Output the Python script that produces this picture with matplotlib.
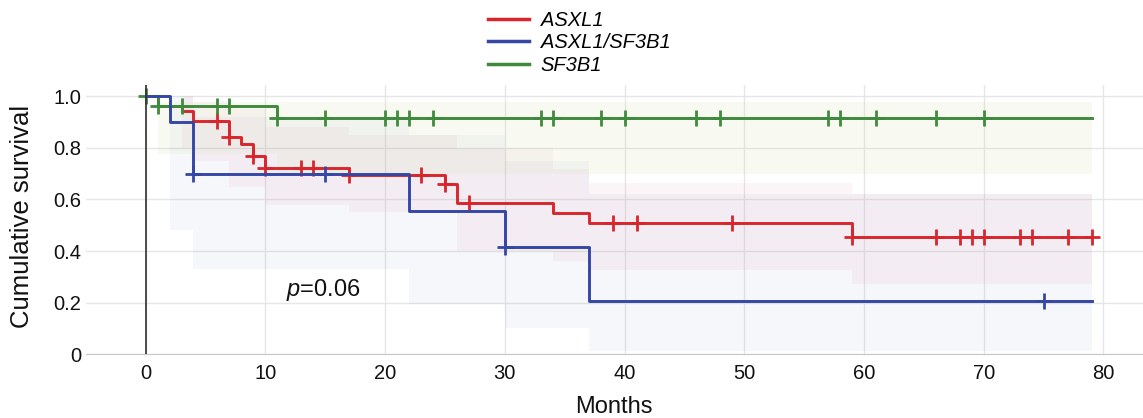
import numpy as np
import matplotlib
matplotlib.use('Agg')
import matplotlib.pyplot as plt
from matplotlib.lines import Line2D

plt.rcParams['font.family'] = ['Liberation Sans', 'DejaVu Sans']
plt.rcParams['mathtext.fontset'] = 'custom'
plt.rcParams['mathtext.it'] = 'Liberation Sans:italic'
plt.rcParams['mathtext.rm'] = 'Liberation Sans'

# Kaplan-Meier steps (time in months, survival after the step)
asxl1_t = [0, 1, 3, 4, 7, 8, 9, 10, 17, 25, 26, 34, 37, 59, 79]
asxl1_s = [1.0, 0.962, 0.943, 0.904, 0.841, 0.815, 0.768, 0.722, 0.695, 0.66, 0.585, 0.548, 0.507, 0.455, 0.455]
asxl1_cens = [6, 7, 9, 10, 13, 14, 17, 23, 25, 27, 39, 41, 49, 59, 66, 68, 69, 70, 73, 74, 77, 79]

combo_t = [0, 2, 4, 22, 30, 37, 79]
combo_s = [1.0, 0.90, 0.70, 0.556, 0.417, 0.207, 0.207]
combo_cens = [4, 15, 30, 75]

sf3b1_t = [0, 1, 11, 79]
sf3b1_s = [1.0, 0.962, 0.915, 0.915]
sf3b1_cens = [0, 1, 3, 6, 7, 11, 15, 20, 21, 22, 24, 33, 34, 38, 40, 46, 48, 57, 58, 61, 66, 70]

# confidence bands (step, post)
asxl1_ci_t = [3, 4, 7, 10, 17, 26, 34, 37, 59, 79]
asxl1_lo = [0.80, 0.75, 0.65, 0.58, 0.55, 0.40, 0.36, 0.325, 0.27, 0.27]
asxl1_hi = [1.0, 0.98, 0.95, 0.88, 0.85, 0.80, 0.72, 0.665, 0.62, 0.62]

combo_ci_t = [2, 4, 22, 30, 37, 79]
combo_lo = [0.48, 0.33, 0.195, 0.10, 0.01, 0.01]
combo_hi = [1.0, 0.92, 0.85, 0.75, 0.62, 0.62]

sf3b1_ci_t = [1, 11, 79]
sf3b1_lo = [0.775, 0.70, 0.70]
sf3b1_hi = [0.977, 0.977, 0.977]

labels = ['ASXL1', 'ASXL1/SF3B1', 'SF3B1']
colors = ['#d8262c', '#3447a6', '#3f8a3c']
band_colors = ['#e07f9a', '#8c94c4', '#c3d48e']
band_alpha = [0.075, 0.075, 0.11]

fig = plt.figure(figsize=(11.43, 4.18), dpi=100)
ax = fig.add_axes([0.075, 0.153, 0.925, 0.644])

bands = [(asxl1_ci_t, asxl1_lo, asxl1_hi), (combo_ci_t, combo_lo, combo_hi),
         (sf3b1_ci_t, sf3b1_lo, sf3b1_hi)]
for (t, lo, hi), c, a in zip(bands, band_colors, band_alpha):
    ax.fill_between(t, lo, hi, step='post', color=c, alpha=a, lw=0, zorder=1)

curves = [(asxl1_t, asxl1_s, asxl1_cens), (combo_t, combo_s, combo_cens),
          (sf3b1_t, sf3b1_s, sf3b1_cens)]
zord = [3, 5, 4]
for (t, s, cens), c, z in zip(curves, colors, zord):
    ax.step(t, s, where='post', color=c, lw=2.1, zorder=z)
    idx = np.searchsorted(t, cens, side='right') - 1
    cy = np.array(s)[idx]
    ax.plot(cens, cy, ls='none', marker='+', ms=12, mew=2, color=c, zorder=z)

ax.axvline(0, color='#303030', lw=1.2, zorder=6)

ax.set_xlim(-5, 83.3)
ax.set_ylim(0, 1.045)
ax.set_xticks(range(0, 90, 10))
ax.set_yticks([0, 0.2, 0.4, 0.6, 0.8, 1.0])
ax.set_yticklabels(['0', '0.2', '0.4', '0.6', '0.8', '1.0'])
ax.grid(True, color='#e6e6e6', lw=1)
ax.set_axisbelow(True)
for side in ['top', 'right', 'left']:
    ax.spines[side].set_visible(False)
ax.spines['bottom'].set_color('#c8c8c8')
ax.tick_params(length=0, labelsize=14.5, colors='#111111')
ax.tick_params(axis='x', pad=7)
ax.tick_params(axis='y', pad=3)

ax.set_xlabel('Months', fontsize=17, color='#111111')
ax.xaxis.set_label_coords(0.5, -0.155)
ax.set_ylabel('Cumulative survival', fontsize=18.5, color='#111111')
ax.yaxis.set_label_coords(-0.049, 0.51)

ax.text(11.7, 0.227, r'$p$=0.06', fontsize=17, va='baseline', ha='left', color='#111111')

handles = [Line2D([], [], color=c, lw=2.5) for c in colors]
fig.legend(handles, labels, loc='upper center', bbox_to_anchor=(0.507, 1.018),
           frameon=False, prop={'style': 'italic', 'size': 14.5},
           handlelength=2.0, labelspacing=0.18, handletextpad=0.6)

fig.savefig('out.png', dpi=100)
